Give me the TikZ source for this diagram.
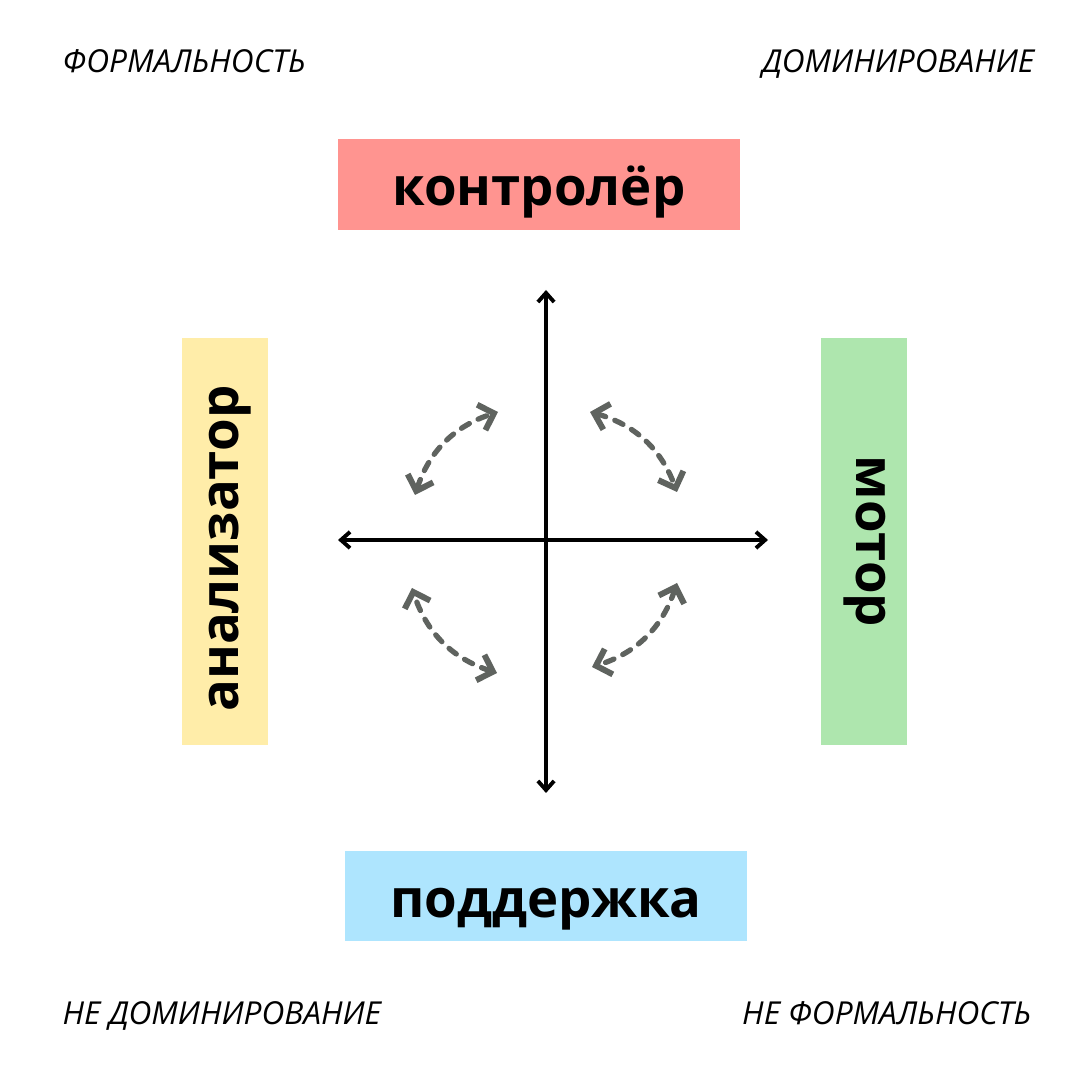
\documentclass[tikz,border=0pt]{standalone}
\usepackage{fontspec}
\setmainfont{Open Sans}
\usetikzlibrary{arrows.meta}

\definecolor{boxred}{HTML}{FF9490}
\definecolor{boxyellow}{HTML}{FFEDA9}
\definecolor{boxgreen}{HTML}{AEE6AE}
\definecolor{boxblue}{HTML}{AEE5FE}
\definecolor{arrowgray}{HTML}{5F635F}

\begin{document}
\begin{tikzpicture}[
    role/.style={inner sep=0pt, text depth=0pt, font=\fontsize{15}{18}\selectfont\bfseries},
    corner/.style={inner sep=0pt, font=\fontsize{9}{11}\selectfont\itshape},
    axis/.style={line width=1.1pt, {Straight Barb[length=2.6pt,width=4.6pt]}-{Straight Barb[length=2.6pt,width=4.6pt]}},
    swing/.style={arrowgray, line width=1.5pt, line cap=round, dash pattern=on 2.6pt off 2.8pt,
        {Straight Barb[length=3.8pt,width=7.6pt,line width=1.7pt]}-{Straight Barb[length=3.8pt,width=7.6pt,line width=1.7pt]}, bend left=27}
]
    \useasboundingbox (0,0) rectangle (10.8,10.8);
    % corners
    \node[corner, anchor=base west] (formal) at (0.62,10.07) {ФОРМАЛЬНОСТЬ};
    \node[corner, anchor=base east] (dominant) at (10.35,10.07) {ДОМИНИРОВАНИЕ};
    \node[corner, anchor=base west] (nodominant) at (0.62,0.55) {НЕ ДОМИНИРОВАНИЕ};
    \node[corner, anchor=base east] (noformal) at (10.32,0.55) {НЕ ФОРМАЛЬНОСТЬ};
    % boxes
    \node[role, fill=boxred, text height=4.3mm, minimum width=4.02cm, minimum height=0.91cm] (control) at (5.39,8.955) {контролёр};
    \node[role, fill=boxblue, text height=4.3mm, minimum width=4.02cm, minimum height=0.90cm] (support) at (5.46,1.84) {поддержка};
    \node[role, fill=boxyellow, rotate=90, text height=2.6mm, minimum width=4.07cm, minimum height=0.86cm] (analyst) at (2.25,5.385) {\hspace*{-1.4mm}анализатор};
    \node[role, fill=boxgreen, rotate=-90, text height=1.6mm, minimum width=4.07cm, minimum height=0.86cm] (motor) at (8.64,5.385) {мотор};
    % axes
    \coordinate (top) at (5.46,7.90);
    \coordinate (bottom) at (5.46,2.87);
    \coordinate (left) at (3.38,5.40);
    \coordinate (right) at (7.68,5.40);
    \draw[axis] (bottom) -- (top);
    \draw[axis] (left) -- (right);
    % swings
    \coordinate (a1) at (4.15,5.85);
    \coordinate (b1) at (4.98,6.68);
    \coordinate (a2) at (5.90,6.68);
    \coordinate (b2) at (6.77,5.88);
    \coordinate (a3) at (6.77,4.97);
    \coordinate (b3) at (5.92,4.13);
    \coordinate (a4) at (4.97,4.07);
    \coordinate (b4) at (4.12,4.92);
    \draw[swing] (a1) to (b1);
    \draw[swing] (a2) to (b2);
    \draw[swing] (a3) to (b3);
    \draw[swing] (a4) to (b4);
\end{tikzpicture}
\end{document}
